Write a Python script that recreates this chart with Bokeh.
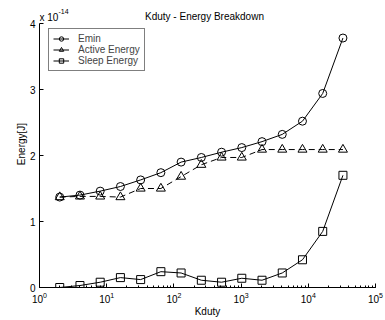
from bokeh.plotting import figure
from bokeh.models import Legend, LegendItem, Label, LogTicker, FixedTicker
from bokeh.embed import file_html
from bokeh.resources import INLINE

kduty = [2, 4, 8, 16, 32, 64, 128, 256, 512, 1024, 2048, 4096, 8192, 16384, 32768]
emin = [1.37, 1.40, 1.46, 1.53, 1.63, 1.74, 1.90, 1.97, 2.05, 2.12, 2.21, 2.32, 2.52, 2.94, 3.78]
active = [1.37, 1.38, 1.38, 1.37, 1.50, 1.50, 1.68, 1.86, 1.97, 1.97, 2.09, 2.09, 2.09, 2.09, 2.09]
sleep = [0.0, 0.03, 0.08, 0.15, 0.12, 0.24, 0.22, 0.11, 0.08, 0.14, 0.11, 0.22, 0.42, 0.85, 1.70]
y_ticks = [0, 1, 2, 3, 4]
title_text = "Kduty - Energy Breakdown"
scale_text = "x 10"
scale_exp = "-14"

FONT = "Liberation Sans"
C = "#000000"

# frame spans canvas y 0..287; y=4 sits at pixel 23 (66 px per unit)
p = figure(width=385, height=320, x_axis_type="log", x_range=(1, 1e5), y_range=(0, 287 / 66),
           output_backend="svg", toolbar_location=None, title=None,
           min_border_left=39, min_border_right=10, min_border_top=0, min_border_bottom=33,
           background_fill_color="white", border_fill_color="white")
p.outline_line_color = None
p.grid.grid_line_color = None

for ax in (p.xaxis[0], p.yaxis[0]):
    ax.axis_line_color = "#000000"
    ax.major_tick_in = 4
    ax.major_tick_out = 0
    ax.minor_tick_in = 2
    ax.minor_tick_out = 0
    ax.major_label_text_font = FONT
    ax.major_label_text_font_size = "10px"
    ax.major_label_text_color = "#000000"
    ax.axis_label_text_font = FONT
    ax.axis_label_text_font_size = "10px"
    ax.axis_label_text_font_style = "normal"
    ax.axis_label_text_color = "#000000"

p.xaxis.ticker = LogTicker(desired_num_ticks=6, num_minor_ticks=10)
p.yaxis.ticker = FixedTicker(ticks=y_ticks)
p.yaxis.minor_tick_line_color = None
p.yaxis.bounds = (0, 4)
p.xaxis.axis_label = "Kduty"
p.yaxis.axis_label = "Energy[J]"
p.xaxis.major_label_standoff = 4
p.xaxis.axis_label_standoff = 0
p.yaxis.major_label_standoff = 4
p.yaxis.axis_label_standoff = 0

l1 = p.line(kduty, emin, line_color=C, line_width=1)
m1 = p.scatter(kduty, emin, marker="circle", size=8, line_color=C, fill_color=None, line_width=1)
l2 = p.line(kduty, active, line_color=C, line_width=1, line_dash="6 4")
m2 = p.scatter(kduty, active, marker="triangle", size=9, line_color=C, fill_color=None, line_width=1)
l3 = p.line(kduty, sleep, line_color=C, line_width=1)
m3 = p.scatter(kduty, sleep, marker="square", size=8, line_color=C, fill_color=None, line_width=1)

l2s = p.line([1], [float("nan")], line_color=C, line_width=1)

legend = Legend(items=[
    LegendItem(label="Emin", renderers=[l1, m1]),
    LegendItem(label="Active Energy", renderers=[l2s, m2]),
    LegendItem(label="Sleep Energy", renderers=[l3, m3]),
], location=(9, 216))
legend.label_text_font = FONT
legend.label_text_font_size = "10px"
legend.label_height = 11
legend.glyph_height = 11
legend.glyph_width = 16
legend.spacing = 0
legend.padding = 4
legend.margin = 0
legend.label_standoff = 9
legend.border_line_color = "#000000"
legend.border_line_width = 1
legend.background_fill_alpha = 1
p.add_layout(legend, "center")

title_lab = Label(x=10 ** 2.455, y=(287 - 16) / 66, text=title_text, text_align="center",
                  text_baseline="alphabetic", text_font=FONT, text_font_size="10px",
                  text_color="#000000")
lab1 = Label(x=1, y=(287 - 17) / 66, text=scale_text, text_baseline="alphabetic",
             text_font=FONT, text_font_size="10px", text_color="#000000")
lab2 = Label(x=10 ** 0.283, y=(287 - 11) / 66, text=scale_exp, text_baseline="alphabetic",
             text_font=FONT, text_font_size="7px", text_color="#000000")
p.add_layout(title_lab)
p.add_layout(lab1)
p.add_layout(lab2)

open("out.html", "w").write(file_html(p, INLINE))
